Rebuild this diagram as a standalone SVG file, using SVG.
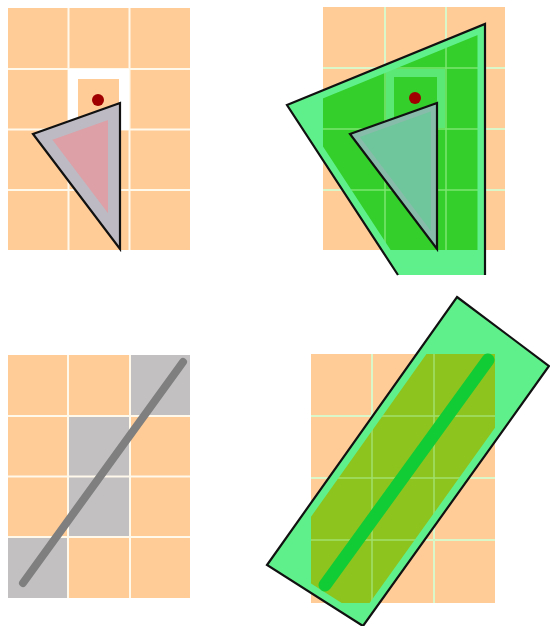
<svg xmlns="http://www.w3.org/2000/svg" width="550" height="626" viewBox="0 0 550 626">
<style>
.cell{fill:#ffcb96}
.gl{stroke:#fff9ec;stroke-width:2;fill:none}
.glg{stroke:#aef5a0;stroke-width:1.5;fill:none;opacity:0.6}
.gray{fill:#c2c0c0}
.edge{fill:none;stroke:#111;stroke-width:2.2;stroke-linejoin:miter}
.mint{fill:#5ff08c}
</style>
<defs>
<clipPath id="gridTR"><rect x="323" y="7" width="182" height="243"/></clipPath>
<clipPath id="gridBR"><rect x="311" y="354" width="184" height="249"/></clipPath>
<clipPath id="shapeTR"><polygon points="485,24 287,105 398,275 485,275"/></clipPath>
<clipPath id="shapeBR"><polygon points="457,297 549,366 363,626 267,565"/></clipPath>
<clipPath id="triL"><polygon points="120,103 33,134 120,249"/></clipPath>
<clipPath id="triR"><polygon points="437,103 350,134 437,249"/></clipPath>
</defs>

<!-- Top-left panel -->
<g id="panel-top-left">
  <rect class="cell" x="8" y="8" width="182" height="242"/>
  <path class="gl" d="M68.5 8V250M129.5 8V250M8 69H190M8 129.5H190M8 190H190"/>
  <rect x="68" y="69" width="61" height="61" fill="#ffffff"/>
  <rect class="cell" x="78" y="79" width="41" height="48"/>
  <circle cx="98" cy="100" r="6" fill="#a00000"/>
  <g id="triangle-left">
    <polygon points="120,103 33,134 120,249" fill="#dca0a6"/>
    <polygon points="120,103 33,134 120,249" clip-path="url(#triL)" fill="none" stroke="#bdbac4" stroke-width="24"/>
    <polygon class="edge" points="120,103 33,134 120,249"/>
  </g>
</g>

<!-- Top-right panel -->
<g id="panel-top-right">
  <rect class="cell" x="323" y="7" width="182" height="243"/>
  <path class="gl" d="M385 7V250M446 7V250M323 68H505M323 129H505M323 190H505"/>
  <g id="green-quad">
    <polygon class="mint" points="485,24 287,105 398,275 485,275"/>
    <g clip-path="url(#gridTR)">
      <polygon points="485,24 287,105 398,275 485,275" fill="#34cf2a"/>
      <path class="glg" d="M385 7V250M446 7V250M323 68H505M323 129H505M323 190H505"/>
    </g>
    <polygon points="485,24 287,105 398,275 485,275" clip-path="url(#shapeTR)" fill="none" stroke="#5ff08c" stroke-width="15"/>
    <rect x="390" y="73" width="51" height="51" fill="none" stroke="#66ee88" stroke-width="8" opacity="0.8"/>
    <polyline class="edge" points="398,275 287,105 485,24 485,275"/>
  </g>
  <circle cx="415" cy="98" r="6" fill="#a00000"/>
  <g id="triangle-right">
    <polygon points="437,103 350,134 437,249" fill="#6fc69c"/>
    <polygon points="437,103 350,134 437,249" clip-path="url(#triR)" fill="none" stroke="#88bcaa" stroke-width="12"/>
    <polygon class="edge" points="437,103 350,134 437,249"/>
  </g>
</g>

<!-- Bottom-left panel -->
<g id="panel-bottom-left">
  <rect class="cell" x="8" y="355" width="182" height="243"/>
  <rect class="gray" x="130" y="355" width="60" height="61"/>
  <rect class="gray" x="68" y="416" width="62" height="121"/>
  <rect class="gray" x="8" y="537" width="60" height="61"/>
  <path class="gl" d="M68 355V598M130 355V598M8 416H190M8 476.5H190M8 537H190"/>
  <line id="gray-line" x1="183" y1="362" x2="23" y2="583" stroke="#7f7f7f" stroke-width="8" stroke-linecap="round"/>
</g>

<!-- Bottom-right panel -->
<g id="panel-bottom-right">
  <rect class="cell" x="311" y="354" width="184" height="249"/>
  <path class="gl" d="M372 354V603M434 354V603M311 416H495M311 478H495M311 540H495"/>
  <g id="green-rect">
    <polygon class="mint" points="457,297 549,366 363,626 267,565"/>
    <g clip-path="url(#gridBR)">
      <polygon points="457,297 549,366 363,626 267,565" fill="#8ec41e"/>
      <path class="glg" d="M372 354V603M434 354V603M311 416H495M311 478H495M311 540H495"/>
    </g>
    <polygon points="457,297 549,366 363,626 267,565" clip-path="url(#shapeBR)" fill="none" stroke="#5ff08c" stroke-width="16"/>
    <line x1="488" y1="360" x2="325" y2="585" stroke="#12cc36" stroke-width="13" stroke-linecap="round"/>
    <polygon class="edge" points="457,297 549,366 363,626 267,565"/>
  </g>
</g>
</svg>
